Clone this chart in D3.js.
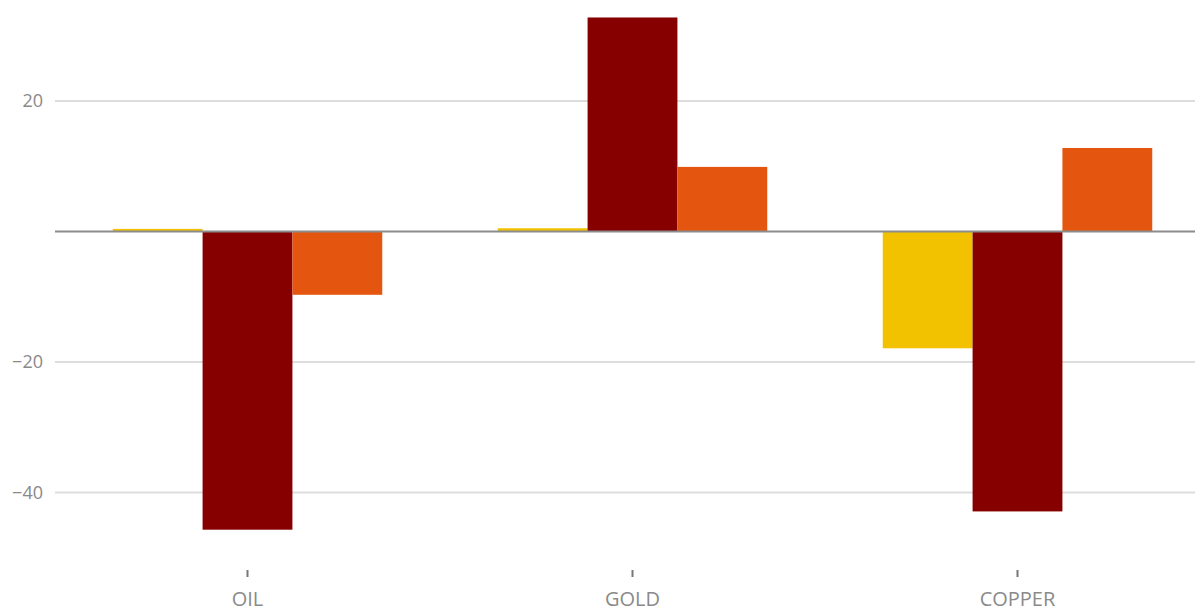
<!DOCTYPE html>
<html>
<head>
<meta charset="utf-8">
<script src="https://cdn.jsdelivr.net/npm/d3@7"></script>
<style>
  html, body { margin: 0; padding: 0; background: #fff; overflow: hidden; }
  svg { display: block; }
  text { font-family: "Open Sans", sans-serif; fill: #8a8a8a; }
</style>
</head>
<body>
<svg id="chart" width="1195" height="609"></svg>
<script>
const categories = ["OIL", "GOLD", "COPPER"];
const seriesNames = ["s1", "s2", "s3"];
const series1 = [0.4, 0.5, -17.9];
const series2 = [-45.7, 32.8, -42.9];
const series3 = [-9.7, 9.9, 12.8];
const seriesColors = ["#F2C200", "#870000", "#E4560F"];
const yTicks = [-40, -20, 20];

const seriesValues = [series1, series2, series3];
const data = categories.map((c, i) => ({
  cat: c,
  vals: seriesNames.map((s, j) => ({ key: s, value: seriesValues[j][i], color: seriesColors[j] }))
}));

const svg = d3.select("#chart");
const left = 55, right = 1210;

const x0 = d3.scaleBand().domain(categories).range([left, right])
  .paddingInner(0.3).paddingOuter(0.15);
const x1 = d3.scaleBand().domain(seriesNames).range([0, x0.bandwidth()]);
const y = d3.scaleLinear().domain([-40, 20]).range([492.5, 101]);

// gridlines
svg.append("g").selectAll("line").data(yTicks).join("line")
  .attr("x1", left).attr("x2", 1195)
  .attr("y1", d => y(d)).attr("y2", d => y(d))
  .attr("stroke", "#dddddd").attr("stroke-width", 2);

// y labels
const yAxis = d3.axisLeft(y).tickValues(yTicks).tickSize(0).tickPadding(0)
  .tickFormat(d3.format("d"));
const ya = svg.append("g").attr("transform", `translate(43,0)`).call(yAxis);
ya.select(".domain").remove();
ya.selectAll("text").attr("font-size", 18).attr("fill", "#8a8a8a")
  .style("font-family", "'Open Sans', sans-serif");

// bars
const groups = svg.append("g").selectAll("g").data(data).join("g")
  .attr("transform", d => `translate(${x0(d.cat)},0)`);
groups.selectAll("rect").data(d => d.vals).join("rect")
  .attr("x", d => x1(d.key))
  .attr("width", x1.bandwidth())
  .attr("y", d => Math.min(y(d.value), y(0)))
  .attr("height", d => Math.abs(y(d.value) - y(0)))
  .attr("fill", d => d.color);

// zero line
svg.append("line")
  .attr("x1", left).attr("x2", 1195)
  .attr("y1", y(0)).attr("y2", y(0))
  .attr("stroke", "#8c8c8c").attr("stroke-width", 2);

// x axis
const xAxis = d3.axisBottom(x0).tickSize(7).tickPadding(15);
const xa = svg.append("g").attr("transform", "translate(0,570)").call(xAxis);
xa.select(".domain").remove();
xa.selectAll(".tick line").attr("stroke", "#777").attr("stroke-width", 2);
xa.selectAll("text").attr("font-size", 20).attr("fill", "#8a8a8a")
  .style("font-family", "'Open Sans', sans-serif");
</script>
</body>
</html>
